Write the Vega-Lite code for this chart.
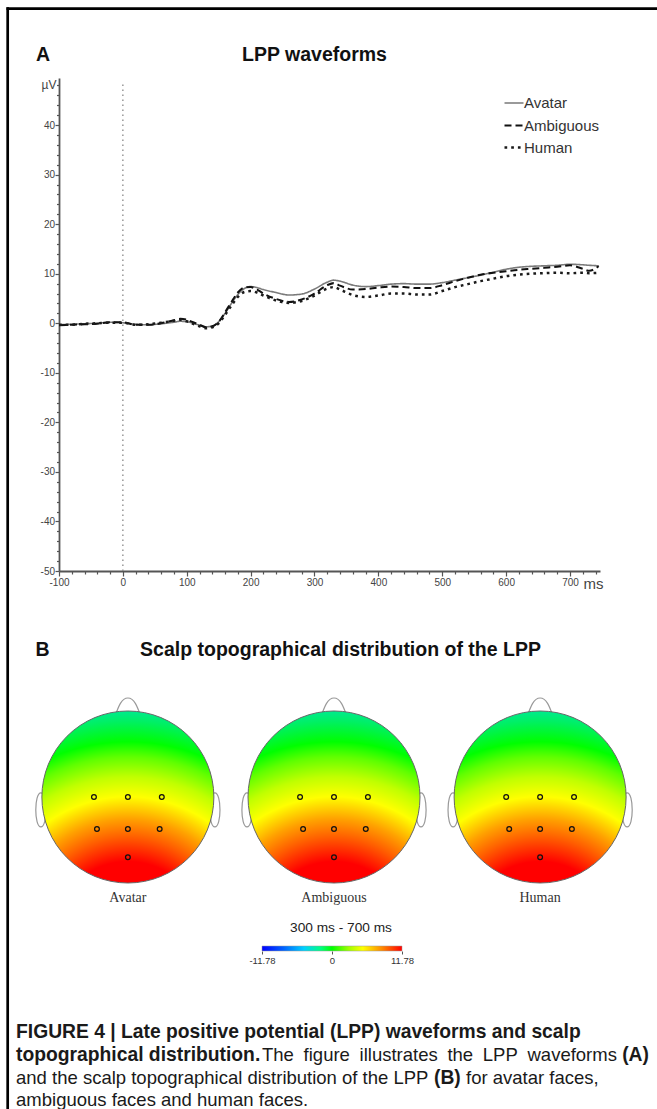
{
  "$schema": "https://vega.github.io/schema/vega-lite/v6.json",
  "width": 657,
  "height": 1109,
  "autosize": "none",
  "padding": 0,
  "background": "#ffffff",
  "config": {
    "view": {"stroke": null},
    "axis": {"grid": false, "labelFont": "Liberation Sans", "titleFont": "Liberation Sans"},
    "legend": {"labelFont": "Liberation Sans"},
    "text": {"font": "Liberation Sans"}
  },
  "resolve": {
    "scale": {"x": "independent", "y": "independent", "color": "independent", "strokeDash": "independent", "strokeWidth": "independent"},
    "axis": {"x": "independent", "y": "independent"}
  },
  "layer": [
    {
      "data": {"values": [{}]},
      "mark": {"type": "rule", "color": "#888888", "strokeWidth": 1.3, "strokeDash": [1.5, 3.5]},
      "encoding": {
        "x": {
          "datum": 0, "type": "quantitative",
          "scale": {"domain": [-100, 747], "range": [59, 600], "nice": false, "zero": false},
          "axis": {
            "orient": "bottom", "offset": -538,
            "values": [-80,-60,-40,-20,20,40,60,80,120,140,160,180,220,240,260,280,320,340,360,380,420,440,460,480,520,540,560,580,620,640,660,680,720,740],
            "labels": false, "domain": false, "tickSize": 3, "tickColor": "#555555", "tickWidth": 1.2, "title": null, "grid": false
          }
        },
        "y": {
          "datum": -50, "type": "quantitative",
          "scale": {"domain": [-50, 49.5], "range": [571, 78], "nice": false, "zero": false},
          "axis": {
            "orient": "left", "offset": -59,
            "values": [-48,-46,-44,-42,-38,-36,-34,-32,-28,-26,-24,-22,-18,-16,-14,-12,-8,-6,-4,-2,2,4,6,8,12,14,16,18,22,24,26,28,32,34,36,38,42,44,46,48],
            "labels": false, "domain": false, "tickSize": 2.5, "tickColor": "#555555", "tickWidth": 1.2, "title": null, "grid": false
          }
        },
        "y2": {"datum": 48.6}
      }
    },
    {
      "data": {"values": [
        {"t": -100, "Avatar": -0.3, "Ambiguous": -0.4, "Human": -0.3},
        {"t": -80, "Avatar": -0.2, "Ambiguous": -0.3, "Human": -0.3},
        {"t": -60, "Avatar": -0.1, "Ambiguous": -0.2, "Human": -0.1},
        {"t": -40, "Avatar": 0.0, "Ambiguous": -0.1, "Human": 0.0},
        {"t": -20, "Avatar": 0.2, "Ambiguous": 0.2, "Human": 0.1},
        {"t": 0, "Avatar": 0.1, "Ambiguous": 0.2, "Human": 0.1},
        {"t": 20, "Avatar": -0.2, "Ambiguous": -0.3, "Human": -0.3},
        {"t": 40, "Avatar": -0.3, "Ambiguous": -0.3, "Human": -0.2},
        {"t": 60, "Avatar": -0.1, "Ambiguous": 0.0, "Human": 0.1},
        {"t": 80, "Avatar": 0.2, "Ambiguous": 0.6, "Human": 0.5},
        {"t": 90, "Avatar": 0.4, "Ambiguous": 0.9, "Human": 0.7},
        {"t": 100, "Avatar": 0.3, "Ambiguous": 0.7, "Human": 0.4},
        {"t": 110, "Avatar": 0.0, "Ambiguous": 0.2, "Human": -0.1},
        {"t": 120, "Avatar": -0.4, "Ambiguous": -0.3, "Human": -0.6},
        {"t": 130, "Avatar": -0.7, "Ambiguous": -0.8, "Human": -1.0},
        {"t": 140, "Avatar": -0.6, "Ambiguous": -0.6, "Human": -0.8},
        {"t": 150, "Avatar": 0.3, "Ambiguous": 0.3, "Human": 0.0},
        {"t": 160, "Avatar": 2.0, "Ambiguous": 2.2, "Human": 1.7},
        {"t": 170, "Avatar": 4.0, "Ambiguous": 4.3, "Human": 3.6},
        {"t": 180, "Avatar": 5.8, "Ambiguous": 6.2, "Human": 5.3},
        {"t": 190, "Avatar": 7.0, "Ambiguous": 7.2, "Human": 6.3},
        {"t": 200, "Avatar": 7.4, "Ambiguous": 7.3, "Human": 6.5},
        {"t": 210, "Avatar": 7.2, "Ambiguous": 6.8, "Human": 6.2},
        {"t": 220, "Avatar": 6.8, "Ambiguous": 6.0, "Human": 5.6},
        {"t": 240, "Avatar": 6.2, "Ambiguous": 4.9, "Human": 4.6},
        {"t": 260, "Avatar": 5.7, "Ambiguous": 4.3, "Human": 4.1},
        {"t": 280, "Avatar": 5.9, "Ambiguous": 4.8, "Human": 4.5},
        {"t": 300, "Avatar": 6.9, "Ambiguous": 6.0, "Human": 5.6},
        {"t": 320, "Avatar": 8.3, "Ambiguous": 7.7, "Human": 7.0},
        {"t": 330, "Avatar": 8.7, "Ambiguous": 8.1, "Human": 7.3},
        {"t": 340, "Avatar": 8.5, "Ambiguous": 7.6, "Human": 6.8},
        {"t": 360, "Avatar": 7.7, "Ambiguous": 6.8, "Human": 5.7},
        {"t": 380, "Avatar": 7.4, "Ambiguous": 6.9, "Human": 5.3},
        {"t": 400, "Avatar": 7.6, "Ambiguous": 7.2, "Human": 5.6},
        {"t": 420, "Avatar": 7.9, "Ambiguous": 7.4, "Human": 6.0},
        {"t": 440, "Avatar": 8.0, "Ambiguous": 7.3, "Human": 6.0},
        {"t": 460, "Avatar": 7.9, "Ambiguous": 7.1, "Human": 5.8},
        {"t": 480, "Avatar": 7.9, "Ambiguous": 7.1, "Human": 5.8},
        {"t": 500, "Avatar": 8.2, "Ambiguous": 7.7, "Human": 6.5},
        {"t": 520, "Avatar": 8.7, "Ambiguous": 8.5, "Human": 7.3},
        {"t": 540, "Avatar": 9.2, "Ambiguous": 9.2, "Human": 7.9},
        {"t": 560, "Avatar": 9.7, "Ambiguous": 9.8, "Human": 8.5},
        {"t": 580, "Avatar": 10.3, "Ambiguous": 10.2, "Human": 9.0},
        {"t": 600, "Avatar": 10.9, "Ambiguous": 10.5, "Human": 9.5},
        {"t": 620, "Avatar": 11.3, "Ambiguous": 10.8, "Human": 9.8},
        {"t": 640, "Avatar": 11.5, "Ambiguous": 11.0, "Human": 10.0},
        {"t": 660, "Avatar": 11.6, "Ambiguous": 11.2, "Human": 10.1},
        {"t": 680, "Avatar": 11.7, "Ambiguous": 11.4, "Human": 10.2},
        {"t": 700, "Avatar": 11.9, "Ambiguous": 11.7, "Human": 10.1},
        {"t": 720, "Avatar": 11.8, "Ambiguous": 11.0, "Human": 10.2},
        {"t": 730, "Avatar": 11.7, "Ambiguous": 10.6, "Human": 10.1},
        {"t": 745, "Avatar": 11.6, "Ambiguous": 11.5, "Human": 10.2}
      ]},
      "transform": [{"fold": ["Avatar", "Ambiguous", "Human"], "as": ["cond", "v"]}],
      "mark": {"type": "line", "interpolate": "monotone", "strokeCap": "butt"},
      "encoding": {
        "x": {
          "field": "t", "type": "quantitative",
          "scale": {"domain": [-100, 747], "range": [59, 600], "nice": false, "zero": false},
          "axis": {
            "orient": "bottom", "offset": -538,
            "values": [-100, 0, 100, 200, 300, 400, 500, 600, 700],
            "labelExpr": "replace(datum.label, '\u2212', '-')",
            "tickSize": 5,
            "domainColor": "#555555", "domainWidth": 1.8, "tickColor": "#555555", "tickWidth": 1.2,
            "labelFontSize": 10, "labelColor": "#444444", "labelPadding": 1, "labelFlush": false, "labelOverlap": false,
            "title": "ms", "titleX": 583, "titleY": 17, "titleAlign": "left", "titleBaseline": "alphabetic",
            "titleFontSize": 15, "titleFontWeight": "normal", "titleColor": "#444444", "grid": false
          }
        },
        "y": {
          "field": "v", "type": "quantitative",
          "scale": {"domain": [-50, 49.5], "range": [571, 78], "nice": false, "zero": false},
          "axis": {
            "orient": "left", "offset": -59,
            "values": [-50, -40, -30, -20, -10, 0, 10, 20, 30, 40],
            "labelExpr": "replace(datum.label, '\u2212', '-')",
            "tickSize": 4,
            "domainColor": "#555555", "domainWidth": 1.8, "tickColor": "#555555", "tickWidth": 1.2,
            "labelFontSize": 10, "labelColor": "#444444", "labelPadding": 0.5, "labelOverlap": false, "labelFlush": false,
            "title": "\u00b5V", "titleAngle": 0, "titleX": -3, "titleY": 88, "titleAlign": "right", "titleBaseline": "alphabetic",
            "titleFontSize": 12, "titleFontWeight": "normal", "titleColor": "#444444", "grid": false
          }
        },
        "color": {
          "field": "cond", "type": "nominal",
          "scale": {"domain": ["Avatar", "Ambiguous", "Human"], "range": ["#7a7a7a", "#111111", "#1a1a1a"]},
          "legend": {"orient": "none", "legendX": 503, "legendY": 92.5, "title": null, "symbolType": "stroke", "symbolSize": 361, "symbolStrokeWidth": 2, "labelFontSize": 15, "labelColor": "#333333", "labelOffset": -1, "rowPadding": 3, "padding": 0}
        },
        "strokeDash": {
          "field": "cond", "type": "nominal",
          "scale": {"domain": ["Avatar", "Ambiguous", "Human"], "range": [[1, 0], [7, 4], [2.7, 4]]},
          "legend": {"orient": "none", "legendX": 503, "legendY": 92.5, "title": null, "symbolType": "stroke", "symbolSize": 361, "symbolStrokeWidth": 2, "labelFontSize": 15, "labelColor": "#333333", "labelOffset": -1, "rowPadding": 3, "padding": 0}
        },
        "strokeWidth": {
          "field": "cond", "type": "nominal",
          "scale": {"domain": ["Avatar", "Ambiguous", "Human"], "range": [1.6, 2.5, 2.7]},
          "legend": null
        }
      }
    },
    {
      "data": {"values": [{"lo": -11.78, "hi": 11.78}]},
      "mark": {
        "type": "rect", "stroke": "#999999", "strokeWidth": 0.5,
        "fill": {"gradient": "linear", "x1": 0, "y1": 0, "x2": 1, "y2": 0, "stops": [
          {"offset": 0, "color": "#0000ff"},
          {"offset": 0.15, "color": "#0060ff"},
          {"offset": 0.3, "color": "#00d0ff"},
          {"offset": 0.42, "color": "#00ff80"},
          {"offset": 0.5, "color": "#00ff00"},
          {"offset": 0.62, "color": "#a0ff00"},
          {"offset": 0.72, "color": "#ffff00"},
          {"offset": 0.85, "color": "#ff9000"},
          {"offset": 1, "color": "#ff0000"}
        ]}
      },
      "encoding": {
        "x": {
          "field": "lo", "type": "quantitative",
          "scale": {"domain": [-11.78, 11.78], "range": [262, 402], "nice": false, "zero": false},
          "axis": {
            "orient": "bottom", "offset": -158, "values": [-11.78, 0, 11.78],
            "labelExpr": "datum.value === 0 ? '0' : replace(format(datum.value, '.2f'), '\u2212', '-')",
            "domain": false, "tickSize": 3, "tickColor": "#555555", "tickWidth": 1,
            "labelFontSize": 9.5, "labelColor": "#333333", "labelPadding": 1, "labelFlush": false, "labelOverlap": false,
            "title": null, "grid": false
          }
        },
        "x2": {"field": "hi"},
        "y": {"datum": 0, "type": "quantitative", "scale": {"domain": [0, 1], "range": [951, 946]}, "axis": null},
        "y2": {"datum": 1}
      }
    },
    {
      "data": {"values": [
        {"cond": "Avatar", "part": "head", "hx": 0, "hy": 0},
        {"cond": "Avatar", "part": "ear", "hx": -1.013, "hy": -0.15},
        {"cond": "Avatar", "part": "ear", "hx": 1.013, "hy": -0.15},
        {"cond": "Avatar", "part": "nose", "hx": 0, "hy": 0.977},
        {"cond": "Avatar", "part": "electrode", "hx": -0.395, "hy": 0},
        {"cond": "Avatar", "part": "electrode", "hx": 0, "hy": 0},
        {"cond": "Avatar", "part": "electrode", "hx": 0.395, "hy": 0},
        {"cond": "Avatar", "part": "electrode", "hx": -0.36, "hy": -0.372},
        {"cond": "Avatar", "part": "electrode", "hx": 0, "hy": -0.372},
        {"cond": "Avatar", "part": "electrode", "hx": 0.37, "hy": -0.372},
        {"cond": "Avatar", "part": "electrode", "hx": 0, "hy": -0.7},
        {"cond": "Ambiguous", "part": "head", "hx": 2.4, "hy": 0},
        {"cond": "Ambiguous", "part": "ear", "hx": 1.387, "hy": -0.15},
        {"cond": "Ambiguous", "part": "ear", "hx": 3.413, "hy": -0.15},
        {"cond": "Ambiguous", "part": "nose", "hx": 2.4, "hy": 0.977},
        {"cond": "Ambiguous", "part": "electrode", "hx": 2.005, "hy": 0},
        {"cond": "Ambiguous", "part": "electrode", "hx": 2.4, "hy": 0},
        {"cond": "Ambiguous", "part": "electrode", "hx": 2.795, "hy": 0},
        {"cond": "Ambiguous", "part": "electrode", "hx": 2.04, "hy": -0.372},
        {"cond": "Ambiguous", "part": "electrode", "hx": 2.4, "hy": -0.372},
        {"cond": "Ambiguous", "part": "electrode", "hx": 2.77, "hy": -0.372},
        {"cond": "Ambiguous", "part": "electrode", "hx": 2.4, "hy": -0.7},
        {"cond": "Human", "part": "head", "hx": 4.8, "hy": 0},
        {"cond": "Human", "part": "ear", "hx": 3.787, "hy": -0.15},
        {"cond": "Human", "part": "ear", "hx": 5.813, "hy": -0.15},
        {"cond": "Human", "part": "nose", "hx": 4.8, "hy": 0.977},
        {"cond": "Human", "part": "electrode", "hx": 4.405, "hy": 0},
        {"cond": "Human", "part": "electrode", "hx": 4.8, "hy": 0},
        {"cond": "Human", "part": "electrode", "hx": 5.195, "hy": 0},
        {"cond": "Human", "part": "electrode", "hx": 4.44, "hy": -0.372},
        {"cond": "Human", "part": "electrode", "hx": 4.8, "hy": -0.372},
        {"cond": "Human", "part": "electrode", "hx": 5.17, "hy": -0.372},
        {"cond": "Human", "part": "electrode", "hx": 4.8, "hy": -0.7}
      ]},
      "encoding": {
        "x": {"field": "hx", "type": "quantitative", "scale": {"domain": [-1, 5.8], "range": [42, 626], "nice": false, "zero": false}, "axis": null},
        "y": {"field": "hy", "type": "quantitative", "scale": {"domain": [-1, 1], "range": [883, 711], "nice": false, "zero": false}, "axis": null}
      },
      "layer": [
        {
          "transform": [{"filter": "datum.part === 'ear'"}],
          "mark": {"type": "point", "shape": "M 0 -1 C 0.4 -1 0.4 1 0 1 C -0.4 1 -0.4 -1 0 -1 Z", "size": 1156, "filled": true, "fill": "#ffffff", "stroke": "#999999", "strokeWidth": 1.2, "opacity": 1}
        },
        {
          "transform": [{"filter": "datum.part === 'nose'"}],
          "mark": {"type": "point", "shape": "M -1 0.6 C -0.7 -0.2 -0.5 -1 0 -1 C 0.5 -1 0.7 -0.2 1 0.6", "size": 900, "filled": true, "fill": "#ffffff", "stroke": "#999999", "strokeWidth": 1.2, "opacity": 1}
        },
        {
          "transform": [{"filter": "datum.part === 'head'"}],
          "mark": {
            "type": "point", "shape": "circle", "size": 29584, "filled": true, "opacity": 1, "stroke": "#666666", "strokeWidth": 1,
            "fill": {"gradient": "radial", "x1": 0.5, "y1": 1.31, "r1": 0, "x2": 0.5, "y2": 1.31, "r2": 1.45, "stops": [
              {"offset": 0, "color": "#ff0000"},
              {"offset": 0.3, "color": "#ff0000"},
              {"offset": 0.4, "color": "#ff6000"},
              {"offset": 0.47, "color": "#ffa000"},
              {"offset": 0.56, "color": "#ffff00"},
              {"offset": 0.64, "color": "#c0ff00"},
              {"offset": 0.72, "color": "#60ff00"},
              {"offset": 0.78, "color": "#00ff00"},
              {"offset": 0.86, "color": "#00f060"},
              {"offset": 0.92, "color": "#00e8a0"},
              {"offset": 1, "color": "#00d8d0"}
            ]}
          }
        },
        {
          "transform": [{"filter": "datum.part === 'electrode'"}],
          "mark": {"type": "point", "shape": "circle", "size": 22, "filled": false, "stroke": "#111111", "strokeWidth": 1.3, "opacity": 1}
        },
        {
          "transform": [{"filter": "datum.part === 'head'"}],
          "mark": {"type": "text", "font": "Liberation Serif", "fontSize": 14, "color": "#333333", "align": "center", "baseline": "middle"},
          "encoding": {
            "text": {"field": "cond"},
            "y": {"datum": -1.174, "type": "quantitative"}
          }
        }
      ]
    },
    {
      "layer": [
        {
          "data": {"values": [{}]},
          "mark": {"type": "rule", "color": "#000000", "strokeWidth": 2.7},
          "encoding": {
            "x": {"datum": 0.0099, "type": "quantitative", "scale": {"domain": [0, 1], "range": [0, 657]}, "axis": null},
            "x2": {"datum": 1},
            "y": {"datum": 0.0078, "type": "quantitative", "scale": {"domain": [0, 1], "range": [0, 1109]}, "axis": null}
          }
        },
        {
          "data": {"values": [{}]},
          "mark": {"type": "rule", "color": "#000000", "strokeWidth": 2.7},
          "encoding": {
            "x": {"datum": 0.0117, "type": "quantitative", "scale": {"domain": [0, 1], "range": [0, 657]}, "axis": null},
            "y": {"datum": 0.0066, "type": "quantitative", "scale": {"domain": [0, 1], "range": [0, 1109]}, "axis": null},
            "y2": {"datum": 1}
          }
        },
        {
          "data": {"values": [{}]},
          "mark": {"type": "text", "text": "A", "fontSize": 19.5, "fontWeight": "bold", "color": "#111111", "align": "center", "baseline": "middle"},
          "encoding": {
            "x": {"datum": 0.0654, "type": "quantitative", "scale": {"domain": [0, 1], "range": [0, 657]}, "axis": null},
            "y": {"datum": 0.0496, "type": "quantitative", "scale": {"domain": [0, 1], "range": [0, 1109]}, "axis": null}
          }
        },
        {
          "data": {"values": [{}]},
          "mark": {"type": "text", "text": "LPP waveforms", "fontSize": 19.5, "fontWeight": "bold", "color": "#111111", "align": "center", "baseline": "middle"},
          "encoding": {
            "x": {"datum": 0.4787, "type": "quantitative", "scale": {"domain": [0, 1], "range": [0, 657]}, "axis": null},
            "y": {"datum": 0.0496, "type": "quantitative", "scale": {"domain": [0, 1], "range": [0, 1109]}, "axis": null}
          }
        },
        {
          "data": {"values": [{}]},
          "mark": {"type": "text", "text": "B", "fontSize": 19.5, "fontWeight": "bold", "color": "#111111", "align": "center", "baseline": "middle"},
          "encoding": {
            "x": {"datum": 0.0647, "type": "quantitative", "scale": {"domain": [0, 1], "range": [0, 657]}, "axis": null},
            "y": {"datum": 0.5861, "type": "quantitative", "scale": {"domain": [0, 1], "range": [0, 1109]}, "axis": null}
          }
        },
        {
          "data": {"values": [{}]},
          "mark": {"type": "text", "text": "Scalp topographical distribution of the LPP", "fontSize": 19.5, "fontWeight": "bold", "color": "#111111", "align": "center", "baseline": "middle"},
          "encoding": {
            "x": {"datum": 0.5183, "type": "quantitative", "scale": {"domain": [0, 1], "range": [0, 657]}, "axis": null},
            "y": {"datum": 0.5861, "type": "quantitative", "scale": {"domain": [0, 1], "range": [0, 1109]}, "axis": null}
          }
        },
        {
          "data": {"values": [{}]},
          "mark": {"type": "text", "text": "300 ms - 700 ms", "fontSize": 13.7, "color": "#222222", "align": "center", "baseline": "middle"},
          "encoding": {
            "x": {"datum": 0.519, "type": "quantitative", "scale": {"domain": [0, 1], "range": [0, 657]}, "axis": null},
            "y": {"datum": 0.8368, "type": "quantitative", "scale": {"domain": [0, 1], "range": [0, 1109]}, "axis": null}
          }
        },
        {
          "data": {"values": [{}]},
          "mark": {"type": "text", "text": "FIGURE 4 | Late positive potential (LPP) waveforms and scalp", "fontSize": 19.3, "fontWeight": "bold", "color": "#1a1a1a", "align": "left", "baseline": "middle"},
          "encoding": {
            "x": {"datum": 0.0244, "type": "quantitative", "scale": {"domain": [0, 1], "range": [0, 657]}, "axis": null},
            "y": {"datum": 0.9306, "type": "quantitative", "scale": {"domain": [0, 1], "range": [0, 1109]}, "axis": null}
          }
        },
        {
          "data": {"values": [{}]},
          "mark": {"type": "text", "text": "topographical distribution.", "fontSize": 19.3, "fontWeight": "bold", "color": "#1a1a1a", "align": "left", "baseline": "middle"},
          "encoding": {
            "x": {"datum": 0.0244, "type": "quantitative", "scale": {"domain": [0, 1], "range": [0, 657]}, "axis": null},
            "y": {"datum": 0.9513, "type": "quantitative", "scale": {"domain": [0, 1], "range": [0, 1109]}, "axis": null}
          }
        },
        {
          "data": {"values": [{}]},
          "mark": {"type": "text", "text": "The", "fontSize": 18.5, "color": "#1a1a1a", "align": "left", "baseline": "middle"},
          "encoding": {
            "x": {"datum": 0.3988, "type": "quantitative", "scale": {"domain": [0, 1], "range": [0, 657]}, "axis": null},
            "y": {"datum": 0.9513, "type": "quantitative", "scale": {"domain": [0, 1], "range": [0, 1109]}, "axis": null}
          }
        },
        {
          "data": {"values": [{}]},
          "mark": {"type": "text", "text": "figure", "fontSize": 18.5, "color": "#1a1a1a", "align": "left", "baseline": "middle"},
          "encoding": {
            "x": {"datum": 0.4621, "type": "quantitative", "scale": {"domain": [0, 1], "range": [0, 657]}, "axis": null},
            "y": {"datum": 0.9513, "type": "quantitative", "scale": {"domain": [0, 1], "range": [0, 1109]}, "axis": null}
          }
        },
        {
          "data": {"values": [{}]},
          "mark": {"type": "text", "text": "illustrates", "fontSize": 18.5, "color": "#1a1a1a", "align": "left", "baseline": "middle"},
          "encoding": {
            "x": {"datum": 0.5473, "type": "quantitative", "scale": {"domain": [0, 1], "range": [0, 657]}, "axis": null},
            "y": {"datum": 0.9513, "type": "quantitative", "scale": {"domain": [0, 1], "range": [0, 1109]}, "axis": null}
          }
        },
        {
          "data": {"values": [{}]},
          "mark": {"type": "text", "text": "the", "fontSize": 18.5, "color": "#1a1a1a", "align": "left", "baseline": "middle"},
          "encoding": {
            "x": {"datum": 0.681, "type": "quantitative", "scale": {"domain": [0, 1], "range": [0, 657]}, "axis": null},
            "y": {"datum": 0.9513, "type": "quantitative", "scale": {"domain": [0, 1], "range": [0, 1109]}, "axis": null}
          }
        },
        {
          "data": {"values": [{}]},
          "mark": {"type": "text", "text": "LPP", "fontSize": 18.5, "color": "#1a1a1a", "align": "left", "baseline": "middle"},
          "encoding": {
            "x": {"datum": 0.7348, "type": "quantitative", "scale": {"domain": [0, 1], "range": [0, 657]}, "axis": null},
            "y": {"datum": 0.9513, "type": "quantitative", "scale": {"domain": [0, 1], "range": [0, 1109]}, "axis": null}
          }
        },
        {
          "data": {"values": [{}]},
          "mark": {"type": "text", "text": "waveforms", "fontSize": 18.5, "color": "#1a1a1a", "align": "left", "baseline": "middle"},
          "encoding": {
            "x": {"datum": 0.8029, "type": "quantitative", "scale": {"domain": [0, 1], "range": [0, 657]}, "axis": null},
            "y": {"datum": 0.9513, "type": "quantitative", "scale": {"domain": [0, 1], "range": [0, 1109]}, "axis": null}
          }
        },
        {
          "data": {"values": [{}]},
          "mark": {"type": "text", "text": "(A)", "fontSize": 19.3, "fontWeight": "bold", "color": "#1a1a1a", "align": "right", "baseline": "middle"},
          "encoding": {
            "x": {"datum": 0.9878, "type": "quantitative", "scale": {"domain": [0, 1], "range": [0, 657]}, "axis": null},
            "y": {"datum": 0.9513, "type": "quantitative", "scale": {"domain": [0, 1], "range": [0, 1109]}, "axis": null}
          }
        },
        {
          "data": {"values": [{}]},
          "mark": {"type": "text", "text": "and the scalp topographical distribution of the LPP", "fontSize": 18.5, "color": "#1a1a1a", "align": "left", "baseline": "middle"},
          "encoding": {
            "x": {"datum": 0.0244, "type": "quantitative", "scale": {"domain": [0, 1], "range": [0, 657]}, "axis": null},
            "y": {"datum": 0.972, "type": "quantitative", "scale": {"domain": [0, 1], "range": [0, 1109]}, "axis": null}
          }
        },
        {
          "data": {"values": [{}]},
          "mark": {"type": "text", "text": "(B)", "fontSize": 19.3, "fontWeight": "bold", "color": "#1a1a1a", "align": "left", "baseline": "middle"},
          "encoding": {
            "x": {"datum": 0.6606, "type": "quantitative", "scale": {"domain": [0, 1], "range": [0, 657]}, "axis": null},
            "y": {"datum": 0.972, "type": "quantitative", "scale": {"domain": [0, 1], "range": [0, 1109]}, "axis": null}
          }
        },
        {
          "data": {"values": [{}]},
          "mark": {"type": "text", "text": "for avatar faces,", "fontSize": 18.5, "color": "#1a1a1a", "align": "left", "baseline": "middle"},
          "encoding": {
            "x": {"datum": 0.7093, "type": "quantitative", "scale": {"domain": [0, 1], "range": [0, 657]}, "axis": null},
            "y": {"datum": 0.972, "type": "quantitative", "scale": {"domain": [0, 1], "range": [0, 1109]}, "axis": null}
          }
        },
        {
          "data": {"values": [{}]},
          "mark": {"type": "text", "text": "ambiguous faces and human faces.", "fontSize": 18.5, "color": "#1a1a1a", "align": "left", "baseline": "middle"},
          "encoding": {
            "x": {"datum": 0.0244, "type": "quantitative", "scale": {"domain": [0, 1], "range": [0, 657]}, "axis": null},
            "y": {"datum": 0.9919, "type": "quantitative", "scale": {"domain": [0, 1], "range": [0, 1109]}, "axis": null}
          }
        }
      ]
    }
  ]
}
